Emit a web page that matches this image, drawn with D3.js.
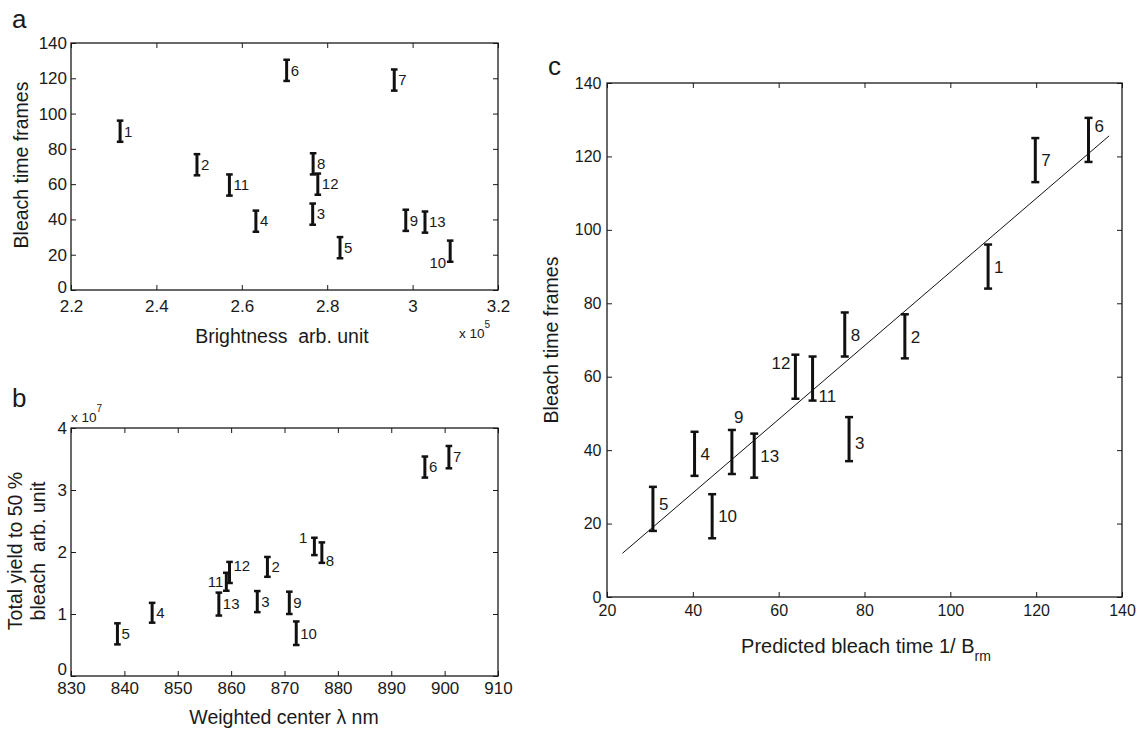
<!DOCTYPE html>
<html>
<head>
<meta charset="utf-8">
<script src="https://cdn.jsdelivr.net/npm/d3@7"></script>
<style>
body { margin: 0; background: #fff; }
text { font-family: "Liberation Sans", Arial, sans-serif; fill: #1a1a1a; white-space: pre; }
</style>
</head>
<body>
<script>
var w = 1137;
var h = 730;

// sample numbers 1..13, shared by all three panels
var ids = [1, 2, 3, 4, 5, 6, 7, 8, 9, 10, 11, 12, 13];
var bleachTime = [90, 71, 43, 39, 24, 124.5, 119, 71.5, 39.5, 22, 59.5, 60, 38.5];
var bleachErr = [6, 6, 6, 6, 6, 6, 6, 6, 6, 6, 6, 6, 6];
// panel a: brightness (x 10^5)
var brightness = [2.315, 2.495, 2.766, 2.633, 2.830, 2.705, 2.957, 2.767, 2.984, 3.088, 2.571, 2.778, 3.029];
// panel b: weighted center wavelength, total yield (x 10^7)
var wavelength = [875.6, 866.8, 864.9, 845.2, 838.7, 896.3, 900.8, 877.0, 870.9, 872.2, 859.1, 859.7, 857.7];
var totalYield = [2.09, 1.76, 1.20, 1.02, 0.68, 3.37, 3.53, 1.99, 1.18, 0.69, 1.52, 1.67, 1.16];
var yieldErr = [0.14, 0.16, 0.17, 0.16, 0.17, 0.17, 0.18, 0.165, 0.18, 0.19, 0.145, 0.17, 0.185];
// panel c: predicted bleach time
var predicted = [108.8, 89.4, 76.4, 40.4, 30.7, 132.2, 119.8, 75.4, 49.1, 44.5, 67.9, 63.9, 54.3];
var fitX = [23.6, 137];
var fitY = [11.9, 125.6];

var xTicksA = [2.2, 2.4, 2.6, 2.8, 3, 3.2];
var yTicksA = [0, 20, 40, 60, 80, 100, 120, 140];
var xTicksB = [830, 840, 850, 860, 870, 880, 890, 900, 910];
var yTicksB = [0, 1, 2, 3, 4];
var xTicksC = [20, 40, 60, 80, 100, 120, 140];
var yTicksC = [0, 20, 40, 60, 80, 100, 120, 140];

var svg = d3.select('body')
   .append('svg')
   .attr('width', w)
   .attr('height', h);

// draws box, inward ticks on four sides, error bars and number labels
function panel(o) {
   var x = d3.scaleLinear().domain(o.xDomain).range([o.left, o.right]);
   var y = d3.scaleLinear().domain(o.yDomain).range([o.bottom, o.top]);
   var g = svg.append('g');

   var axes = [
      [d3.axisBottom(x).tickValues(o.xTicks), 'translate(0,' + o.bottom + ')', true, o.xPad],
      [d3.axisLeft(y).tickValues(o.yTicks), 'translate(' + o.left + ',0)', true, o.yPad],
      [d3.axisTop(x).tickValues(o.xTicks), 'translate(0,' + o.top + ')', false, 0],
      [d3.axisRight(y).tickValues(o.yTicks), 'translate(' + o.right + ',0)', false, 0]
   ];
   axes.forEach(function(a, k) {
      var ax = a[0].tickSizeInner(-5).tickSizeOuter(0).tickPadding(a[3])
         .tickFormat(a[2] ? function(d) { return String(d); } : '');
      var ag = g.append('g').attr('transform', a[1]).call(ax);
      ag.select('.domain').remove();
      ag.selectAll('line').attr('stroke', '#1a1a1a').attr('stroke-width', 1);
      ag.attr('font-size', o.tickFont).attr('font-family', null);
      // lowest y label sits just above the first x label
      if (k === 1 && o.zeroDy) {
         ag.selectAll('text').filter(function(d) { return d === 0; }).attr('dy', o.zeroDy);
      }
   });

   g.append('rect')
      .attr('x', o.left).attr('y', o.top)
      .attr('width', o.right - o.left).attr('height', o.bottom - o.top)
      .attr('fill', 'none').attr('stroke', '#1a1a1a').attr('stroke-width', 1.3);

   if (o.fit) {
      g.append('line')
         .attr('x1', x(o.fit[0][0])).attr('y1', y(o.fit[1][0]))
         .attr('x2', x(o.fit[0][1])).attr('y2', y(o.fit[1][1]))
         .attr('stroke', '#111').attr('stroke-width', 1);
   }

   var pts = ids.map(function(id, i) {
      return { id: id, x: o.xs[i], y: o.ys[i], e: o.es[i] };
   });
   var bars = g.selectAll('g.bar').data(pts).enter().append('g').attr('class', 'bar');
   bars.append('line')
      .attr('x1', function(d) { return x(d.x); })
      .attr('x2', function(d) { return x(d.x); })
      .attr('y1', function(d) { return y(d.y - d.e); })
      .attr('y2', function(d) { return y(d.y + d.e); })
      .attr('stroke', '#111').attr('stroke-width', 3);
   [-1, 1].forEach(function(s) {
      bars.append('line')
         .attr('x1', function(d) { return x(d.x) - o.cap; })
         .attr('x2', function(d) { return x(d.x) + o.cap; })
         .attr('y1', function(d) { return y(d.y + s * d.e); })
         .attr('y2', function(d) { return y(d.y + s * d.e); })
         .attr('stroke', '#111').attr('stroke-width', 2.5);
   });

   bars.append('text')
      .attr('x', function(d) { return x(d.x) + (o.nudge[d.id] || [o.dx])[0]; })
      .attr('y', function(d) { return y(d.y) + (o.nudge[d.id] || [0, o.dy])[1]; })
      .attr('text-anchor', function(d) { return (o.nudge[d.id] || [0, 0, 'start'])[2]; })
      .attr('font-size', o.labelFont)
      .text(function(d) { return d.id; });
}

panel({
   left: 71, right: 498, top: 43, bottom: 290,
   xDomain: [2.2, 3.2], yDomain: [0, 140], xTicks: xTicksA, yTicks: yTicksA,
   xs: brightness, ys: bleachTime, es: bleachErr,
   xPad: 10, yPad: 4, tickFont: 17, labelFont: 15, cap: 3.3, dx: 4, dy: 5.3, zeroDy: '0.12em',
   nudge: { 10: [-4, 16.5, 'end'] }
});

panel({
   left: 71, right: 498, top: 428, bottom: 676,
   xDomain: [830, 910], yDomain: [0, 4], xTicks: xTicksB, yTicks: yTicksB,
   xs: wavelength, ys: totalYield, es: yieldErr,
   xPad: 6, yPad: 4, tickFont: 17, labelFont: 15, cap: 3.3, dx: 4, dy: 5.3, zeroDy: '-0.08em',
   nudge: { 1: [-7, -3.5, 'end'], 11: [-3, 5, 'end'], 8: [4, 13, 'start'], 12: [4, -1.3, 'start'] }
});

panel({
   left: 607, right: 1122, top: 83, bottom: 597,
   xDomain: [20, 140], yDomain: [0, 140], xTicks: xTicksC, yTicks: yTicksC,
   xs: predicted, ys: bleachTime, es: bleachErr, fit: [fitX, fitY],
   xPad: 8, yPad: 5.5, tickFont: 16, labelFont: 17, cap: 4, dx: 6, dy: 6.2,
   nudge: { 6: [6, -7.8, 'start'], 12: [-5, -7.8, 'end'], 11: [6, 23.3, 'start'],
            9: [2, -28.8, 'start'], 5: [6, 1.5, 'start'], 3: [6, 10.2, 'start'] }
});

// panel letters
[['a', 12, 28], ['b', 12, 407], ['c', 548, 75]].forEach(function(p) {
   svg.append('text').attr('x', p[1]).attr('y', p[2]).attr('font-size', 26).text(p[0]);
});

// axis titles
svg.append('text').attr('transform', 'translate(28,165) rotate(-90)')
   .attr('text-anchor', 'middle').attr('font-size', 19.5).text('Bleach time frames');
svg.append('text').attr('x', 282).attr('y', 342.5)
   .attr('text-anchor', 'middle').attr('font-size', 19.5).text('Brightness  arb. unit');
var e5 = svg.append('text').attr('x', 459).attr('y', 338).attr('font-size', 13.5);
e5.append('tspan').text('x 10');
e5.append('tspan').attr('dy', -10).attr('font-size', 10).text('5');

svg.append('text').attr('transform', 'translate(22,551) rotate(-90)')
   .attr('text-anchor', 'middle').attr('font-size', 19.5).text('Total yield to 50 %');
svg.append('text').attr('transform', 'translate(45,551) rotate(-90)')
   .attr('text-anchor', 'middle').attr('font-size', 19.5).text('bleach  arb. unit');
svg.append('text').attr('x', 284).attr('y', 723.5)
   .attr('text-anchor', 'middle').attr('font-size', 19.5).text('Weighted center λ nm');
var e7 = svg.append('text').attr('x', 71).attr('y', 421.7).attr('font-size', 13.5);
e7.append('tspan').text('x 10');
e7.append('tspan').attr('dy', -10).attr('font-size', 10).text('7');

svg.append('text').attr('transform', 'translate(558,340) rotate(-90)')
   .attr('text-anchor', 'middle').attr('font-size', 19.5).text('Bleach time frames');
var xc = svg.append('text').attr('x', 866).attr('y', 653)
   .attr('text-anchor', 'middle').attr('font-size', 20);
xc.append('tspan').text('Predicted bleach time 1/ B');
xc.append('tspan').attr('dy', 8).attr('font-size', 14).text('rm');
</script>
</body>
</html>
